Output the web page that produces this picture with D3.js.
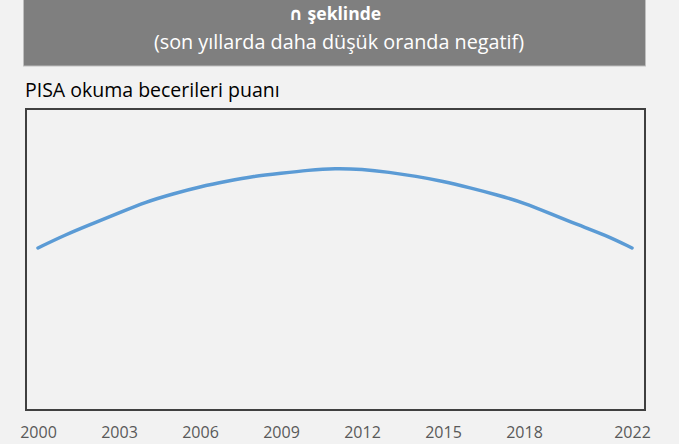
<!DOCTYPE html>
<html><head><meta charset="utf-8">
<script src="https://cdn.jsdelivr.net/npm/d3@7"></script>
<style>
html,body{margin:0;padding:0;background:#f2f2f2;}
svg{display:block;}
text{font-family:"Open Sans",sans-serif;}
</style></head>
<body>
<script>
const years = [2000,2001,2002,2003,2004,2005,2006,2007,2008,2009,2010,2011,2012,2013,2014,2015,2016,2017,2018,2019,2020,2021,2022];
const scores = [482.3,484.9,487.1,489.3,491.5,493.1,494.5,495.6,496.6,497.2,497.8,498.2,498.0,497.4,496.6,495.6,494.3,492.9,491.3,489.1,486.9,484.9,482.3];
const tickYears = [2000,2003,2006,2009,2012,2015,2018,2022];
const titleSymbol = "∩";
const titleLines = [" şeklinde","(son yıllarda daha düşük oranda negatif)"];
const yLabel = "PISA okuma becerileri puanı";

const W=679,H=444;
const svg=d3.select("body").append("svg").attr("width",W).attr("height",H);
svg.append("rect").attr("width",W).attr("height",H).attr("fill","#f2f2f2");

// header box
svg.append("rect").attr("x",23.5).attr("y",-2).attr("width",622).attr("height",68)
  .attr("fill","#7f7f7f").attr("stroke","#bfbfbf").attr("stroke-width",1);
const t1=svg.append("text").attr("x",335).attr("y",20).attr("text-anchor","middle")
  .attr("fill","#ffffff").attr("font-weight","bold").attr("font-size",17.5);
t1.append("tspan").attr("font-family","DejaVu Sans").attr("font-weight","bold").text(titleSymbol);
t1.append("tspan").text(titleLines[0]);
svg.append("text").attr("x",339).attr("y",49).attr("text-anchor","middle")
  .attr("fill","#ffffff").attr("font-size",19.8).text(titleLines[1]);

svg.append("text").attr("x",25).attr("y",97).attr("fill","#000").attr("font-size",19.5).text(yLabel);

const x=d3.scaleLinear().domain([2000,2022]).range([38,632]);
const y=d3.scaleLinear().domain([450,510]).range([410,109]);

svg.append("rect").attr("x",26).attr("y",109).attr("width",619).attr("height",301)
  .attr("fill","none").attr("stroke","#404040").attr("stroke-width",2);

const line=d3.line().x((d,i)=>x(years[i])).y(d=>y(d)).curve(d3.curveBasis);
svg.append("path").datum(scores).attr("d",line).attr("fill","none")
  .attr("stroke","#5b9bd5").attr("stroke-width",3.5).attr("stroke-linecap","round");

const ax=d3.axisBottom(x).tickValues(tickYears).tickFormat(d3.format("d")).tickSize(0).tickPadding(0);
const g=svg.append("g").attr("transform","translate(0,427)").call(ax);
g.select(".domain").remove();
g.selectAll("text").attr("fill","#595959").attr("font-size",16).attr("font-family","Open Sans, sans-serif").attr("dy","0.71em");
</script>
</body></html>
